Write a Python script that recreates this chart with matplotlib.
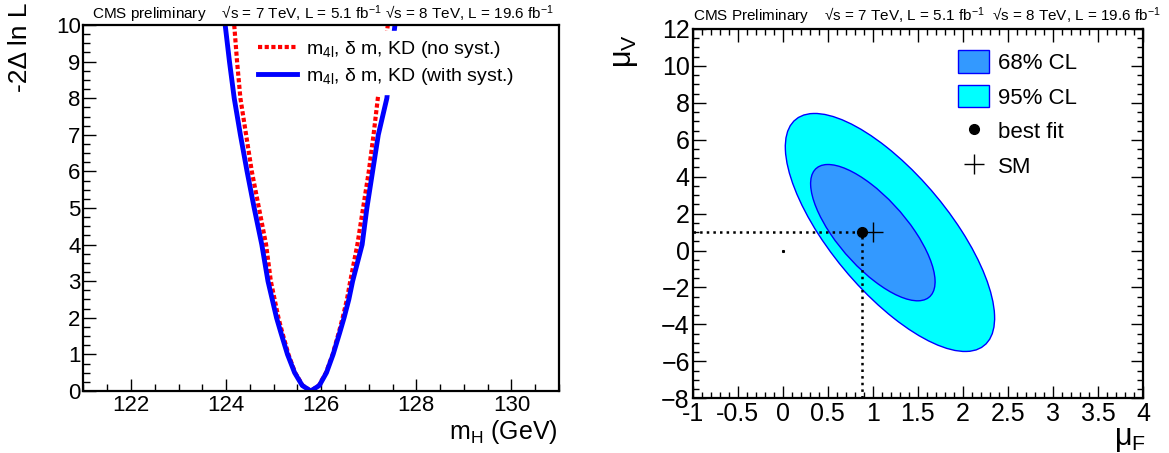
import matplotlib
matplotlib.use("Agg")
import matplotlib.pyplot as plt
from matplotlib.patches import Ellipse, Patch
from matplotlib.lines import Line2D
from matplotlib.ticker import MultipleLocator, FuncFormatter

plt.rcParams['font.family'] = ['Liberation Sans', 'DejaVu Sans']
plt.rcParams['mathtext.default'] = 'regular'

# left panel: -2 delta lnL scan vs mH
nll_levels = [10, 9, 8, 7, 6, 5, 4, 3, 2.5, 2, 1.6, 1.0, 0.5, 0.15, 0,
              0.15, 0.5, 1.0, 1.6, 2, 2.5, 3, 4, 5, 6, 7, 8, 9, 10]
mh_syst = [123.98, 124.07, 124.17, 124.30, 124.44, 124.59, 124.75, 124.88, 124.97, 125.06,
           125.15, 125.29, 125.44, 125.60, 125.78,
           125.96, 126.11, 126.25, 126.39, 126.48, 126.58, 126.66, 126.86, 126.96, 127.08,
           127.20, 127.38, 127.46, 127.55]
mh_nosyst = [124.17, 124.23, 124.30, 124.42, 124.54, 124.69, 124.84, 124.94, 125.02, 125.10,
             125.18, 125.31, 125.45, 125.61, 125.78,
             125.95, 126.10, 126.24, 126.37, 126.45, 126.54, 126.61, 126.76, 126.88, 127.00,
             127.10, 127.19, 127.30, 127.40]

# right panel: muF vs muV contours (center, width, height, angle in data units)
cl95 = [(1.19, 0.98), 1.60, 13.0, 7.5]
cl68 = [(1.00, 0.97), 0.95, 7.45, 7.8]
best_fit = (0.88, 1.0)
sm_point = (1.0, 1.0)

fig = plt.figure(figsize=(11.69, 4.53), dpi=100)

# ---------------- left ----------------
ax1 = fig.add_axes([0.0714, 0.1369, 0.4068, 0.8079])
ax1.plot(mh_nosyst, nll_levels, color='red', lw=3, ls=(0, (1, 0.6)),
         label='m$_{4l}$, δ m, KD (no syst.)')
ax1.plot(mh_syst, nll_levels, color='blue', lw=3.5,
         label='m$_{4l}$, δ m, KD (with syst.)')
ax1.set_xlim(121, 131)
ax1.set_ylim(0, 10)
ax1.xaxis.set_major_locator(MultipleLocator(2))
ax1.xaxis.set_minor_locator(MultipleLocator(0.5))
ax1.yaxis.set_major_locator(MultipleLocator(1))
ax1.yaxis.set_minor_locator(MultipleLocator(0.25))
ax1.tick_params(which='both', direction='in', top=False, right=False, labelsize=16, width=1)
ax1.tick_params(axis='x', pad=3)
ax1.tick_params(axis='y', pad=2)
ax1.tick_params(which='major', length=9)
ax1.tick_params(which='minor', length=5)
for s in ax1.spines.values():
    s.set_linewidth(1.6)
ax1.legend(loc='upper left', bbox_to_anchor=(0.33, 1.01), fontsize=14,
           frameon=True, fancybox=False, edgecolor='white', framealpha=1,
           handlelength=2.0, handletextpad=0.45, labelspacing=0.3, borderpad=0.4)
fig.text(20 / 1169, 1 - 3 / 453, '-2Δ ln L', rotation=90, ha='center', va='top', fontsize=19)
fig.text(558 / 1169, 1 - 418 / 453, 'm$_{H}$ (GeV)', ha='right', va='top', fontsize=18)
fig.text(92 / 1169, 1 - 19 / 453,
         'CMS preliminary    √s = 7 TeV, L = 5.1 fb$^{-1}$ √s = 8 TeV, L = 19.6 fb$^{-1}$',
         ha='left', va='baseline', fontsize=11)

# ---------------- right ----------------
ax2 = fig.add_axes([0.5925, 0.1208, 0.3854, 0.8152])
ax2.add_patch(Ellipse(cl95[0], cl95[1], cl95[2], angle=cl95[3],
                      facecolor='#00ffff', edgecolor='blue', lw=1, zorder=1))
ax2.add_patch(Ellipse(cl68[0], cl68[1], cl68[2], angle=cl68[3],
                      facecolor='#3399ff', edgecolor='blue', lw=1, zorder=2))
ax2.plot([-1, best_fit[0]], [best_fit[1], best_fit[1]], color='black', ls=':', lw=1.8, zorder=3)
ax2.plot([best_fit[0], best_fit[0]], [-8, best_fit[1]], color='black', ls=':', lw=1.8, zorder=3)
ax2.plot([best_fit[0]], [best_fit[1]], 'o', color='black', ms=7, zorder=4)
ax2.plot([sm_point[0]], [sm_point[1]], '+', color='black', ms=14, mew=1, zorder=4)
ax2.plot([0], [0], 's', color='black', ms=1.2, zorder=4)
ax2.set_xlim(-1, 4)
ax2.set_ylim(-8, 12)
ax2.xaxis.set_major_locator(MultipleLocator(0.5))
ax2.xaxis.set_minor_locator(MultipleLocator(0.1))
ax2.yaxis.set_major_locator(MultipleLocator(2))
ax2.yaxis.set_minor_locator(MultipleLocator(0.5))
ax2.xaxis.set_major_formatter(FuncFormatter(lambda v, p: '%g' % v))
ax2.tick_params(which='both', direction='in', top=True, right=True, labelsize=18, width=1)
ax2.tick_params(axis='x', pad=3)
ax2.tick_params(axis='y', pad=2)
ax2.tick_params(which='major', length=9)
ax2.tick_params(which='minor', length=4.5)
for s in ax2.spines.values():
    s.set_linewidth(1.6)
handles = [Patch(facecolor='#3399ff', edgecolor='blue', label='68% CL'),
           Patch(facecolor='#00ffff', edgecolor='blue', label='95% CL'),
           Line2D([], [], marker='o', color='black', ls='none', ms=7, label='best fit'),
           Line2D([], [], marker='+', color='black', ls='none', ms=14, mew=1, label='SM')]
ax2.legend(handles=handles, loc='upper left', bbox_to_anchor=(0.55, 0.99), fontsize=16,
           frameon=False, handlelength=1.4, handleheight=1.15, handletextpad=0.4,
           labelspacing=0.5, borderpad=0.3)
fig.text(625 / 1169, 1 - 34 / 453, 'μ$_{V}$', rotation=90, ha='center', va='top', fontsize=22)
fig.text(1146 / 1169, 1 - 424 / 453, 'μ$_{F}$', ha='right', va='top', fontsize=22)
fig.text(693 / 1169, 1 - 21 / 453,
         'CMS Preliminary    √s = 7 TeV, L = 5.1 fb$^{-1}$  √s = 8 TeV, L = 19.6 fb$^{-1}$',
         ha='left', va='baseline', fontsize=11)

fig.savefig('out.png', dpi=100)
